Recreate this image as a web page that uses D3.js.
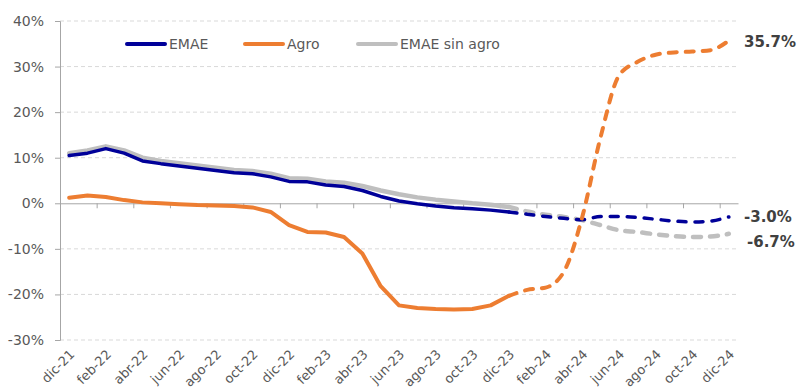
<!DOCTYPE html>
<html>
<head>
<meta charset="utf-8">
<script src="https://cdn.jsdelivr.net/npm/d3@7"></script>
<style>
  html, body { margin: 0; padding: 0; background: #fff; }
  svg { display: block; font-family: "DejaVu Sans", Verdana, sans-serif; }
</style>
</head>
<body>
<svg id="chart" width="800" height="392"></svg>
<script>
// Monthly categories, dic-21 to dic-24
const months = ["dic-21","ene-22","feb-22","mar-22","abr-22","may-22","jun-22","jul-22","ago-22","sep-22","oct-22","nov-22",
  "dic-22","ene-23","feb-23","mar-23","abr-23","may-23","jun-23","jul-23","ago-23","sep-23","oct-23","nov-23",
  "dic-23","ene-24","feb-24","mar-24","abr-24","may-24","jun-24","jul-24","ago-24","sep-24","oct-24","nov-24","dic-24"];

// Year-on-year variation (%)
const emae = [10.5, 11.0, 12.0, 11.0, 9.3, 8.7, 8.2, 7.7, 7.2, 6.7, 6.5, 5.8,
  4.8, 4.7, 4.0, 3.7, 2.8, 1.5, 0.5, -0.1, -0.6, -1.0, -1.2, -1.5,
  -1.9, -2.4, -2.9, -3.3, -3.6, -2.9, -2.9, -3.1, -3.5, -3.9, -4.1, -3.9, -3.0];
const agro = [1.2, 1.7, 1.4, 0.7, 0.2, 0.0, -0.2, -0.4, -0.5, -0.6, -0.9, -1.9,
  -4.8, -6.3, -6.4, -7.4, -11.0, -18.2, -22.4, -23.0, -23.2, -23.3, -23.2, -22.4,
  -20.3, -19.0, -18.5, -15.0, -3.0, 14.5, 28.0, 31.0, 32.6, 33.1, 33.3, 33.6, 35.7];
const emaeSinAgro = [11.0, 11.6, 12.5, 11.6, 10.0, 9.3, 8.8, 8.3, 7.8, 7.3, 7.1, 6.5,
  5.5, 5.4, 4.8, 4.5, 3.8, 2.8, 2.0, 1.3, 0.8, 0.4, 0.0, -0.3,
  -0.8, -1.8, -2.5, -3.0, -3.7, -4.8, -5.9, -6.3, -6.8, -7.2, -7.4, -7.3, -6.7];

const lastActual = 24;   // dic-23: later months are projections
const yTicks = [-30, -20, -10, 0, 10, 20, 30, 40];
const seriesNames = ["EMAE", "Agro", "EMAE sin agro"];
const seriesColors = ["#000099", "#ED7D31", "#BFBFBF"];

const svg = d3.select("#chart");
const plotLeft = 60, plotRight = 738, plotTop = 21, plotBottom = 340;

const x = d3.scaleLinear().domain([0, months.length]).range([plotLeft, plotRight]);
const y = d3.scaleLinear().domain([-30, 40]).range([plotBottom, plotTop]);
const cx = i => x(i + 0.5);

// Horizontal gridlines
svg.append("g").selectAll("line")
  .data(yTicks.filter(v => v !== 0))
  .join("line")
  .attr("x1", plotLeft).attr("x2", plotRight)
  .attr("y1", d => y(d)).attr("y2", d => y(d))
  .attr("stroke", "#D9D9D9").attr("stroke-width", 1)
  .attr("stroke-dasharray", "4,3");

// Y axis
const yAxis = svg.append("g")
  .attr("transform", `translate(${plotLeft},0)`)
  .call(d3.axisLeft(y).tickValues(yTicks).tickSize(5).tickPadding(11).tickFormat(d => d + "%"));
yAxis.select(".domain").attr("stroke", "#A6A6A6");
yAxis.selectAll(".tick line").attr("stroke", "#A6A6A6");
yAxis.selectAll(".tick text").attr("fill", "#595959")
  .style("font-family", "DejaVu Sans, Verdana, sans-serif").style("font-size", "14px");

// X axis along the zero line, tick marks every two months
const tickIdx = d3.range(2, months.length, 2);
const xAxis = svg.append("g")
  .attr("transform", `translate(0,${y(0)})`)
  .call(d3.axisBottom(x).tickValues(tickIdx).tickSize(5).tickSizeOuter(0).tickFormat(""));
xAxis.select(".domain").attr("stroke", "#A6A6A6");
xAxis.selectAll(".tick line").attr("stroke", "#A6A6A6");

// Month labels at the bottom, every other month
svg.append("g").selectAll("text")
  .data(months.map((m, i) => ({ m, i })).filter(d => d.i % 2 === 0))
  .join("text")
  .attr("transform", d => `translate(${cx(d.i) + 3},${plotBottom + 12}) rotate(-45)`)
  .attr("text-anchor", "end")
  .attr("dy", "0.35em")
  .attr("fill", "#595959")
  .style("font-size", "13px")
  .text(d => d.m);

// Series lines: solid for actual data, dashed for projections
const solidLine = d3.line()
  .x(d => cx(d.i))
  .y(d => y(d.v));
const projLine = d3.line()
  .x(d => cx(d.i))
  .y(d => y(d.v))
  .curve(d3.curveMonotoneX);

function drawSeries(values, color, width) {
  const pts = values.map((v, i) => ({ i, v }));
  svg.append("path")
    .datum(pts.slice(0, lastActual + 1))
    .attr("d", solidLine)
    .attr("fill", "none").attr("stroke", color)
    .attr("stroke-width", width).attr("stroke-linejoin", "round").attr("stroke-linecap", "round");
  svg.append("path")
    .datum(pts.slice(lastActual))
    .attr("d", projLine)
    .attr("fill", "none").attr("stroke", color)
    .attr("stroke-width", width).attr("stroke-linecap", "round")
    .attr("stroke-dasharray", "8,9");
}

drawSeries(emaeSinAgro, seriesColors[2], 4.5);
drawSeries(emae, seriesColors[0], 3.5);
drawSeries(agro, seriesColors[1], 4);

// End-of-period value labels
const endLabels = [
  { v: agro[agro.length - 1], dy: 1, dx: 0 },
  { v: emae[emae.length - 1], dy: 0, dx: 0 },
  { v: emaeSinAgro[emaeSinAgro.length - 1], dy: 8, dx: 3 }
];
svg.append("g").selectAll("text")
  .data(endLabels)
  .join("text")
  .attr("x", d => 744 + d.dx)
  .attr("y", d => y(d.v) + d.dy)
  .attr("dy", "0.35em")
  .attr("fill", "#404040")
  .style("font-size", "15px").style("font-weight", "bold")
  .text(d => d.v.toFixed(1) + "%");

// Legend
const legendX = [127, 245, 358];
const legend = svg.append("g").selectAll("g")
  .data(seriesNames.map((n, k) => ({ n, k })))
  .join("g")
  .attr("transform", d => `translate(${legendX[d.k]},44)`);
legend.append("line")
  .attr("x1", 0).attr("x2", 38).attr("y1", 0).attr("y2", 0)
  .attr("stroke", d => seriesColors[d.k]).attr("stroke-width", 4).attr("stroke-linecap", "round");
legend.append("text")
  .attr("x", 42).attr("dy", "0.35em")
  .attr("fill", "#595959").style("font-size", "14px")
  .text(d => d.n);
</script>
</body>
</html>
